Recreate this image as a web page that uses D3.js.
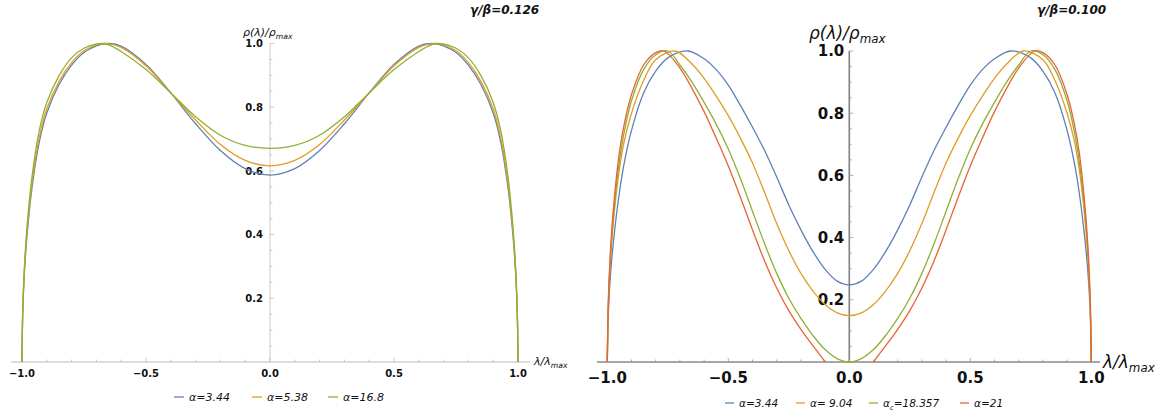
<!DOCTYPE html>
<html>
<head>
<meta charset="utf-8">
<script src="https://cdn.jsdelivr.net/npm/d3@7"></script>
<style>
  html, body { margin: 0; padding: 0; background: #fff; }
  svg { display: block; }
  text { font-family: "DejaVu Sans", sans-serif; fill: #111; }
</style>
</head>
<body>
<svg id="chart" width="1163" height="414"></svg>
<script>
// ---- data ----
// left panel, gamma/beta = 0.126
const leftLam = [-1, -0.997, -0.99, -0.98, -0.96, -0.93, -0.9, -0.85, -0.8, -0.75, -0.68, -0.65, -0.6, -0.5, -0.4, -0.3, -0.2, -0.1,
  0, 0.1, 0.2, 0.3, 0.4, 0.5, 0.6, 0.65, 0.68, 0.75, 0.8, 0.85, 0.9, 0.93, 0.96, 0.98, 0.99, 0.997, 1];
const leftA344 = [0, 0.155, 0.285, 0.395, 0.545, 0.692, 0.782, 0.872, 0.932, 0.972, 0.997, 1.0, 0.992, 0.934, 0.845, 0.748, 0.664, 0.607,
  0.587, 0.607, 0.664, 0.748, 0.845, 0.934, 0.992, 1.0, 0.997, 0.972, 0.932, 0.872, 0.782, 0.692, 0.545, 0.395, 0.285, 0.155, 0];
const leftA538 = [0, 0.158, 0.292, 0.405, 0.558, 0.705, 0.795, 0.882, 0.940, 0.977, 0.999, 0.999, 0.988, 0.930, 0.845, 0.760, 0.683, 0.633,
  0.616, 0.633, 0.683, 0.760, 0.845, 0.930, 0.988, 0.999, 0.999, 0.977, 0.940, 0.882, 0.795, 0.705, 0.558, 0.405, 0.292, 0.158, 0];
const leftA168 = [0, 0.163, 0.303, 0.422, 0.580, 0.728, 0.815, 0.900, 0.955, 0.985, 1.0, 0.996, 0.975, 0.918, 0.845, 0.770, 0.712, 0.680,
  0.671, 0.680, 0.712, 0.770, 0.845, 0.918, 0.975, 0.996, 1.0, 0.985, 0.955, 0.900, 0.815, 0.728, 0.580, 0.422, 0.303, 0.163, 0];
const leftLabels = ["α=3.44", "α=5.38", "α=16.8"];

// right panel, gamma/beta = 0.100
const rightLamA344 = [-1, -0.995, -0.985, -0.97, -0.95, -0.93, -0.9, -0.85, -0.8, -0.75, -0.668, -0.6, -0.55, -0.5, -0.45, -0.4, -0.35, -0.3, -0.25, -0.2, -0.15, -0.1, -0.05,
  0, 0.05, 0.1, 0.15, 0.2, 0.25, 0.3, 0.35, 0.4, 0.45, 0.5, 0.55, 0.6, 0.668, 0.75, 0.8, 0.85, 0.9, 0.93, 0.95, 0.97, 0.985, 0.995, 1];
const rightA344 = [0, 0.170, 0.300, 0.420, 0.545, 0.640, 0.745, 0.865, 0.935, 0.978, 1.0, 0.975, 0.940, 0.890, 0.825, 0.755, 0.680, 0.595, 0.505, 0.425, 0.355, 0.298, 0.260,
  0.248, 0.260, 0.298, 0.355, 0.425, 0.505, 0.595, 0.680, 0.755, 0.825, 0.890, 0.940, 0.975, 1.0, 0.978, 0.935, 0.865, 0.745, 0.640, 0.545, 0.420, 0.300, 0.170, 0];
const rightLamA904 = [-1, -0.995, -0.985, -0.97, -0.95, -0.93, -0.9, -0.85, -0.8, -0.72, -0.65, -0.6, -0.55, -0.5, -0.45, -0.4, -0.35, -0.3, -0.25, -0.2, -0.15, -0.1, -0.05,
  0, 0.05, 0.1, 0.15, 0.2, 0.25, 0.3, 0.35, 0.4, 0.45, 0.5, 0.55, 0.6, 0.65, 0.72, 0.8, 0.85, 0.9, 0.93, 0.95, 0.97, 0.985, 0.995, 1];
const rightA904 = [0, 0.195, 0.350, 0.490, 0.620, 0.710, 0.800, 0.905, 0.972, 1.0, 0.958, 0.912, 0.855, 0.792, 0.720, 0.640, 0.545, 0.445, 0.358, 0.285, 0.228, 0.185, 0.158,
  0.149, 0.158, 0.185, 0.228, 0.285, 0.358, 0.445, 0.545, 0.640, 0.720, 0.792, 0.855, 0.912, 0.958, 1.0, 0.972, 0.905, 0.800, 0.710, 0.620, 0.490, 0.350, 0.195, 0];
const rightLamA18 = [-1, -0.995, -0.985, -0.97, -0.95, -0.93, -0.9, -0.85, -0.8, -0.75, -0.7, -0.65, -0.6, -0.55, -0.5, -0.45, -0.4, -0.35, -0.3, -0.25, -0.2, -0.15, -0.1, -0.05,
  0, 0.05, 0.1, 0.15, 0.2, 0.25, 0.3, 0.35, 0.4, 0.45, 0.5, 0.55, 0.6, 0.65, 0.7, 0.75, 0.8, 0.85, 0.9, 0.93, 0.95, 0.97, 0.985, 0.995, 1];
const rightA18 = [0, 0.205, 0.365, 0.510, 0.645, 0.740, 0.840, 0.940, 0.988, 1.0, 0.955, 0.900, 0.835, 0.765, 0.685, 0.590, 0.485, 0.380, 0.285, 0.205, 0.140, 0.085, 0.040, 0.011,
  0, 0.011, 0.040, 0.085, 0.140, 0.205, 0.285, 0.380, 0.485, 0.590, 0.685, 0.765, 0.835, 0.900, 0.955, 1.0, 0.988, 0.940, 0.840, 0.740, 0.645, 0.510, 0.365, 0.205, 0];
// two-cut phase: gap around zero (null = no density drawn)
const rightLamA21 = [-1, -0.995, -0.985, -0.97, -0.95, -0.93, -0.9, -0.85, -0.8, -0.765, -0.7, -0.65, -0.6, -0.55, -0.5, -0.45, -0.4, -0.35, -0.3, -0.25, -0.2, -0.16, -0.13, -0.11, -0.1,
  0, 0.1, 0.11, 0.13, 0.16, 0.2, 0.25, 0.3, 0.35, 0.4, 0.45, 0.5, 0.55, 0.6, 0.65, 0.7, 0.765, 0.8, 0.85, 0.9, 0.93, 0.95, 0.97, 0.985, 0.995, 1];
const rightA21 = [0, 0.215, 0.385, 0.535, 0.675, 0.765, 0.860, 0.955, 0.995, 1.0, 0.945, 0.880, 0.805, 0.720, 0.630, 0.530, 0.425, 0.325, 0.238, 0.165, 0.105, 0.062, 0.032, 0.011, 0,
  null, 0, 0.011, 0.032, 0.062, 0.105, 0.165, 0.238, 0.325, 0.425, 0.530, 0.630, 0.720, 0.805, 0.880, 0.945, 1.0, 0.995, 0.955, 0.860, 0.765, 0.675, 0.535, 0.385, 0.215, 0];
const rightLabels = ["α=3.44", "α= 9.04", "α_c=18.357", "α=21"];

const xTickValues = [-1, -0.5, 0, 0.5, 1];
const xTickLabels = ["−1.0", "−0.5", "0.0", "0.5", "1.0"];
const yTickValues = [0.2, 0.4, 0.6, 0.8, 1.0];
const yTickLabels = ["0.2", "0.4", "0.6", "0.8", "1.0"];

const colors = ["#5e81b5", "#e19c24", "#8fb032", "#eb6235"];

const svg = d3.select("#chart");

function drawPanel(p) {
  const g = svg.append("g");
  const x = d3.scaleLinear().domain([-1, 1]).range([p.xl, p.xr]);
  const y = d3.scaleLinear().domain([0, 1]).range([p.yb, p.yt]);

  // axes lines
  g.append("line").attr("x1", p.axisL).attr("x2", p.axisR).attr("y1", y(0)).attr("y2", y(0))
    .style("stroke", p.xAxisColor).style("stroke-width", p.axisW);
  g.append("line").attr("x1", x(0)).attr("x2", x(0)).attr("y1", y(0)).attr("y2", y(1))
    .style("stroke", p.yAxisColor).style("stroke-width", p.axisW * 0.8);

  // x ticks (pointing up)
  d3.range(-10, 11).forEach(i => {
    const v = i / 10, major = i % 5 === 0;
    g.append("line").attr("x1", x(v)).attr("x2", x(v))
      .attr("y1", y(0)).attr("y2", y(0) - (major ? 4 : 2.5))
      .style("stroke", p.tickColor).style("stroke-width", 0.8);
  });
  // y ticks (pointing right)
  d3.range(1, 21).forEach(i => {
    const v = i / 20, major = i % 4 === 0;
    g.append("line").attr("x1", x(0)).attr("x2", x(0) + (major ? 4 : 2.5))
      .attr("y1", y(v)).attr("y2", y(v))
      .style("stroke", p.tickColor).style("stroke-width", 0.8);
  });

  g.selectAll(".xl").data(xTickValues).enter().append("text")
    .attr("x", d => x(d)).attr("y", y(0) + p.xLabelDy)
    .attr("text-anchor", "middle")
    .style("font-size", p.tickFont + "px").style("font-weight", "bold")
    .text((d, i) => xTickLabels[i]);

  g.selectAll(".yl").data(yTickValues).enter().append("text")
    .attr("x", x(0) - p.yLabelDx).attr("y", d => y(d)).attr("dy", "0.36em")
    .attr("text-anchor", "end")
    .style("font-size", p.tickFont + "px").style("font-weight", "bold")
    .text((d, i) => yTickLabels[i]);

  // curves
  const line = d3.line()
    .defined(d => d[1] !== null)
    .x(d => x(d[0])).y(d => y(d[1]))
    .curve(d3.curveCatmullRom.alpha(0.5));
  p.series.forEach((s, i) => {
    g.append("path")
      .datum(s.lam.map((l, k) => [l, s.val[k]]))
      .attr("d", line)
      .style("fill", "none")
      .style("stroke", colors[i])
      .style("stroke-width", 1.3);
  });

  // axis labels
  const yl = g.append("text").attr("x", p.rhoX).attr("y", p.rhoY).style("font-size", p.labFont + "px").style("font-style", "italic");
  yl.append("tspan").text("ρ(λ)/ρ");
  yl.append("tspan").attr("dy", p.labFont * 0.25).style("font-size", (p.labFont * 0.7) + "px").text("max");

  const xl = g.append("text").attr("x", p.lamX).attr("y", p.lamY).style("font-size", p.labFont + "px").style("font-style", "italic");
  xl.append("tspan").text("λ/λ");
  xl.append("tspan").attr("dy", p.labFont * 0.25).style("font-size", (p.labFont * 0.7) + "px").text("max");

  g.append("text").attr("x", p.titleX).attr("y", p.titleY)
    .style("font-size", p.titleFont + "px").style("font-weight", "bold").style("font-style", "italic")
    .text(p.title);

  // legend
  p.legend.forEach((lab, i) => {
    const lx = p.legX[i];
    g.append("line").attr("x1", lx).attr("x2", lx + p.legLine).attr("y1", p.legY).attr("y2", p.legY)
      .style("stroke", colors[i]).style("stroke-width", 1.3);
    const t = g.append("text").attr("x", lx + p.legLine + 5).attr("y", p.legY).attr("dy", "0.35em")
      .style("font-size", p.legFont + "px").style("font-style", "italic");
    const parts = lab.split("_");
    if (parts.length > 1) {
      t.append("tspan").text(parts[0]);
      const rest = parts[1].split("=");
      t.append("tspan").attr("dy", 3).style("font-size", (p.legFont * 0.65) + "px").text(rest[0]);
      t.append("tspan").attr("dy", -3).text("=" + rest[1]);
    } else {
      t.text(lab);
    }
  });
}

drawPanel({
  xl: 22, xr: 518, yb: 362, yt: 43.5,
  axisL: 11, axisR: 530, axisW: 1.4,
  xAxisColor: "#d0d0d0", yAxisColor: "#d0d0d0", tickColor: "#bbbbbb",
  tickFont: 10, xLabelDy: 15, yLabelDx: 7,
  labFont: 11, rhoX: 243, rhoY: 36, lamX: 534, lamY: 365,
  title: "γ/β=0.126", titleX: 470, titleY: 14, titleFont: 12,
  legend: leftLabels, legX: [174, 252, 328], legY: 397, legLine: 10, legFont: 11,
  series: [
    { lam: leftLam, val: leftA344 },
    { lam: leftLam, val: leftA538 },
    { lam: leftLam, val: leftA168 }
  ]
});

drawPanel({
  xl: 607.3, xr: 1091.3, yb: 362, yt: 51,
  axisL: 597, axisR: 1100, axisW: 2,
  xAxisColor: "#a6a6a6", yAxisColor: "#808080", tickColor: "#999999",
  tickFont: 15, xLabelDy: 21, yLabelDx: 5,
  labFont: 17, rhoX: 809, rhoY: 39, lamX: 1103, lamY: 368,
  title: "γ/β=0.100", titleX: 1037, titleY: 14, titleFont: 12,
  legend: rightLabels, legX: [725, 796, 869, 960], legY: 403, legLine: 9, legFont: 10.5,
  series: [
    { lam: rightLamA344, val: rightA344 },
    { lam: rightLamA904, val: rightA904 },
    { lam: rightLamA18, val: rightA18 },
    { lam: rightLamA21, val: rightA21 }
  ]
});
</script>
</body>
</html>
